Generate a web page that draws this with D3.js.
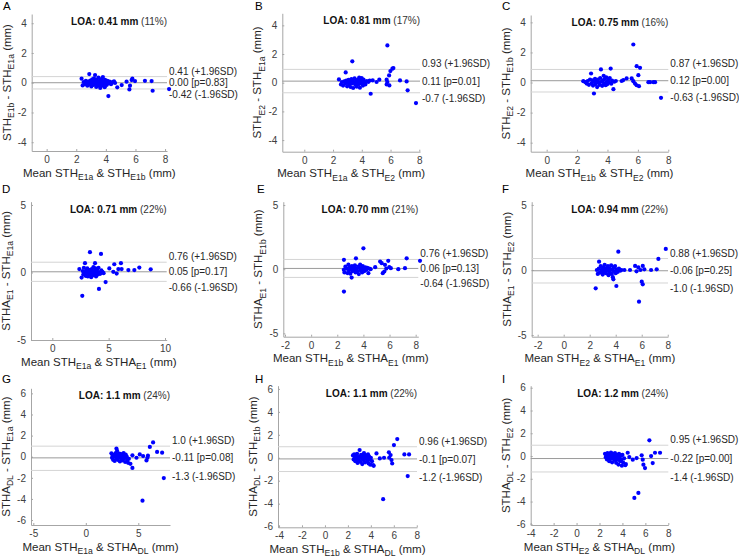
<!DOCTYPE html>
<html><head><meta charset="utf-8">
<script src="https://cdn.jsdelivr.net/npm/d3@7"></script>
<style>body{margin:0;background:#fff} svg{display:block}</style>
</head><body>
<svg id="c" width="739" height="558"></svg>
<script>
// ---------------- DATA ----------------
const panelLetters = ["A","B","C","D","E","F","G","H","I"];
const loaValues = ["0.41","0.81","0.75","0.71","0.70","0.94","1.1","1.1","1.2"];
const loaPercents = ["11%","17%","16%","22%","21%","22%","24%","22%","24%"];
const upperLOA = [0.41,0.93,0.87,0.76,0.76,0.88,1.0,0.96,0.95];
const upperLabels = ["0.41","0.93","0.87","0.76","0.76","0.88","1.0","0.96","0.95"];
const meanDiff = [0.00,0.11,0.12,0.05,0.06,-0.06,-0.11,-0.1,-0.22];
const meanLabels = ["0.00","0.11","0.12","0.05","0.06","-0.06","-0.11","-0.1","-0.22"];
const pValues = ["0.83","0.01","0.00","0.17","0.13","0.25","0.08","0.07","0.00"];
const lowerLOA = [-0.42,-0.7,-0.63,-0.66,-0.64,-1.0,-1.3,-1.2,-1.4];
const lowerLabels = ["-0.42","-0.7","-0.63","-0.66","-0.64","-1.0","-1.3","-1.2","-1.4"];
const yLabels = [
  "STH_{E1b} - STH_{E1a} (mm)","STH_{E2} - STH_{E1a} (mm)","STH_{E2} - STH_{E1b} (mm)",
  "STHA_{E1} - STH_{E1a} (mm)","STHA_{E1} - STH_{E1b} (mm)","STHA_{E1} - STH_{E2} (mm)",
  "STHA_{DL} - STH_{E1a} (mm)","STHA_{DL} - STH_{E1b} (mm)","STHA_{DL} - STH_{E2} (mm)"];
const xLabels = [
  "Mean STH_{E1a} & STH_{E1b} (mm)","Mean STH_{E1a} & STH_{E2} (mm)","Mean STH_{E1b} & STH_{E2} (mm)",
  "Mean STH_{E1a} & STHA_{E1} (mm)","Mean STH_{E1b} & STHA_{E1} (mm)","Mean STH_{E2} & STHA_{E1} (mm)",
  "Mean STH_{E1a} & STHA_{DL} (mm)","Mean STH_{E1b} & STHA_{DL} (mm)","Mean STH_{E2} & STHA_{DL} (mm)"];
const xTicks = [
  [0,2,4,6,8],[0,2,4,6,8],[0,2,4,6,8],
  [0,5,10],[-2,0,2,4,6,8],[-2,0,2,4,6,8],
  [-5,0,5],[-4,-2,0,2,4,6,8],[-4,-2,0,2,4,6,8]];
const yTicks = [
  [-4,-2,0,2,4],[-4,-2,0,2,4],[-4,-2,0,2,4],
  [-5,0,5],[-5,0,5],[-5,0,5],
  [-6,-4,-2,0,2,4,6],[-6,-4,-2,0,2,4,6],[-6,-4,-2,0,2,4,6]];
const xDomains = [[-1.01,8.13],[-1.53,8.05],[-1.05,8.0],[-1.89,10.15],[-2.13,8.2],[-2.46,8.02],[-5.22,8.02],[-4.09,8.02],[-4,8]];
const yDomains = [[-4.59,4.62],[-4.81,4.84],[-4.6,4.49],[-5,5.24],[-5.26,5.26],[-5.13,5.25],[-6.47,6.48],[-6.06,6.28],[-6.06,6.18]];

const pointsA = [[2.36,0.27],[2.43,-0.18],[2.5,0.05],[2.58,-0.1],[2.65,0.12],[2.7,-0.02],[2.75,-0.2],[2.82,0.08],[2.88,0.58],[2.9,-0.1],[2.95,0.15],[3.0,0.0],[3.02,-0.25],[3.08,0.22],[3.12,0.05],[3.15,-0.15],[3.2,0.3],[3.25,-0.05],[3.27,0.52],[3.3,0.1],[3.35,-0.28],[3.38,0.2],[3.42,-0.08],[3.45,0.05],[3.5,0.35],[3.52,-0.2],[3.55,0.0],[3.6,0.15],[3.62,-0.35],[3.65,-0.1],[3.7,0.25],[3.72,0.05],[3.78,-0.18],[3.8,0.38],[3.85,0.1],[3.88,-0.05],[3.92,-0.3],[3.95,0.2],[4.0,0.02],[4.05,-0.15],[4.1,0.12],[4.15,-0.05],[4.17,-0.9],[4.25,0.08],[4.35,-0.1],[4.45,0.05],[4.55,0.1],[4.62,-0.02],[4.77,-0.31],[5.07,-0.16],[5.4,0.07],[5.59,-0.45],[5.63,-0.2],[5.74,0.18],[5.79,0.27],[5.97,0.11],[6.64,0.13],[7.09,0.11],[7.16,-0.54],[8.27,-0.43]];
const pointsB = [[2.41,0.23],[2.55,-0.12],[2.62,0.05],[2.7,-0.2],[2.78,0.1],[2.85,-0.05],[2.88,0.72],[2.92,0.15],[2.98,-0.25],[3.02,0.02],[3.08,0.2],[3.12,-0.12],[3.18,0.08],[3.22,-0.3],[3.28,0.25],[3.32,-0.05],[3.34,1.49],[3.38,0.12],[3.4,-0.37],[3.45,0.0],[3.5,0.3],[3.55,-0.15],[3.6,0.1],[3.65,-0.28],[3.7,0.2],[3.72,0.02],[3.78,-0.1],[3.82,0.35],[3.87,-0.35],[3.9,0.15],[3.95,-0.05],[3.99,0.33],[4.02,0.1],[4.08,-0.2],[4.12,0.22],[4.18,0.0],[4.25,-0.12],[4.35,0.12],[4.45,0.05],[4.55,0.15],[4.62,-0.77],[4.76,0.16],[5.03,0.05],[5.22,0.21],[5.73,0.21],[5.73,-0.12],[5.78,0.05],[5.78,2.6],[5.9,0.51],[5.92,-0.19],[5.99,0.81],[6.13,0.98],[6.2,1.02],[6.66,0.16],[7.12,0.09],[7.19,-0.53],[7.77,-1.42]];
const pointsC = [[2.41,0.09],[2.55,0.02],[2.63,-0.07],[2.7,0.1],[2.78,-0.15],[2.85,0.2],[2.92,0.6],[2.95,-0.05],[3.0,0.15],[3.05,-0.2],[3.11,-0.73],[3.12,0.05],[3.18,0.25],[3.22,-0.1],[3.28,0.1],[3.32,-0.3],[3.38,0.2],[3.42,0.0],[3.48,-0.15],[3.52,0.3],[3.57,0.87],[3.6,0.05],[3.65,-0.22],[3.7,0.15],[3.75,0.45],[3.78,-0.05],[3.82,0.25],[3.88,-0.18],[3.92,0.35],[3.95,0.05],[4.0,-0.1],[4.05,0.2],[4.1,0.0],[4.15,0.3],[4.21,0.93],[4.25,-0.08],[4.3,0.12],[4.39,-0.44],[4.45,0.05],[4.55,0.1],[4.93,0.1],[5.04,0.16],[5.26,0.27],[5.59,0.27],[5.7,0.09],[5.7,2.53],[5.81,-0.07],[5.92,-0.18],[5.92,1.09],[6.03,0.49],[6.07,-0.24],[6.14,0.98],[6.69,0.02],[6.8,0.02],[7.02,0.02],[7.13,0.02],[7.52,-1.02]];
const pointsD = [[2.4,0.25],[2.6,-0.38],[2.66,-1.73],[2.7,0.1],[2.75,-0.15],[2.8,0.35],[2.85,0.0],[2.9,0.69],[2.95,-0.25],[3.0,0.15],[3.05,-0.05],[3.1,0.3],[3.15,-0.3],[3.2,0.05],[3.25,0.2],[3.3,-0.15],[3.34,1.5],[3.38,0.1],[3.45,-0.35],[3.5,0.25],[3.55,0.0],[3.6,-0.2],[3.65,0.4],[3.7,0.1],[3.75,-0.1],[3.79,0.69],[3.82,0.3],[3.88,-0.3],[3.92,0.05],[3.98,0.2],[4.05,-0.15],[4.1,0.35],[4.14,-1.22],[4.18,0.0],[4.25,-0.1],[4.32,1.37],[4.35,0.15],[4.45,0.05],[4.55,-0.05],[4.73,-0.71],[5.06,0.3],[5.41,0.05],[5.5,0.61],[5.71,-0.08],[5.86,0.25],[6.09,0.69],[6.15,0.25],[6.75,0.18],[7.28,0.18],[7.72,0.36],[8.73,0.23]];
const pointsE = [[2.5,-0.05],[2.51,0.73],[2.51,-1.74],[2.55,-0.25],[2.62,0.2],[2.7,0.05],[2.78,-0.3],[2.85,0.35],[2.9,-0.1],[2.95,0.15],[3.0,-0.35],[3.05,0.05],[3.1,-0.65],[3.12,0.25],[3.18,-0.15],[3.25,0.1],[3.3,-0.05],[3.35,0.3],[3.4,-0.25],[3.43,0.85],[3.48,0.05],[3.55,-0.15],[3.6,0.2],[3.65,-0.38],[3.7,0.1],[3.75,0.35],[3.8,-0.1],[3.85,0.05],[3.9,-0.25],[3.95,0.25],[4.0,1.63],[4.02,0.0],[4.08,-0.15],[4.15,0.15],[4.22,-0.05],[4.3,0.1],[4.38,-0.31],[4.45,0.05],[4.55,0.0],[4.9,0.16],[5.28,0.6],[5.4,0.47],[5.48,-0.31],[5.6,-0.18],[5.65,0.34],[5.75,0.05],[5.9,0.65],[5.98,0.16],[6.1,0.08],[6.67,0.0],[7.18,0.08],[7.31,0.85],[8.33,0.65]];
const pointsF = [[2.46,-1.41],[2.55,0.0],[2.62,-0.3],[2.7,0.1],[2.72,0.64],[2.78,-0.2],[2.85,0.3],[2.9,-0.1],[2.95,0.05],[3.0,-0.35],[3.05,0.2],[3.1,-0.15],[3.15,0.4],[3.2,0.0],[3.25,-0.25],[3.3,0.15],[3.35,-0.05],[3.4,0.3],[3.45,-0.4],[3.5,0.1],[3.55,-0.2],[3.6,0.05],[3.65,0.35],[3.7,-0.3],[3.75,0.0],[3.78,-0.55],[3.82,-0.72],[3.85,0.2],[3.9,-0.1],[3.95,0.3],[4.0,-0.25],[4.05,-1.23],[4.08,0.05],[4.15,-0.15],[4.2,1.41],[4.25,0.1],[4.35,-0.05],[4.45,0.0],[4.67,0.0],[5.1,0.0],[5.49,0.31],[5.6,-0.1],[5.74,0.2],[5.79,-2.44],[5.9,0.0],[6.0,-0.9],[6.08,-1.1],[6.08,0.31],[6.2,0.05],[6.72,0.0],[7.15,0.05],[7.28,0.85],[7.85,1.62]];
const pointsG = [[2.44,0.32],[2.5,-0.1],[2.55,0.1],[2.6,-0.3],[2.65,0.0],[2.7,0.2],[2.75,-0.4],[2.8,0.05],[2.85,0.35],[2.92,0.77],[2.95,-0.15],[2.98,0.55],[3.0,0.1],[3.05,-0.3],[3.1,0.2],[3.15,-0.05],[3.2,0.3],[3.25,-0.45],[3.3,0.0],[3.35,0.15],[3.4,-0.2],[3.45,0.25],[3.5,-0.35],[3.55,0.05],[3.6,0.35],[3.65,-0.15],[3.7,0.1],[3.75,-0.5],[3.8,0.2],[3.85,-0.1],[3.9,0.0],[3.95,-0.3],[4.03,-0.58],[4.1,-0.2],[4.25,-0.67],[4.44,-1.06],[4.44,0.13],[4.83,-0.1],[5.14,0.22],[5.4,-4.17],[5.46,0.06],[5.78,-0.35],[5.87,-0.1],[5.92,0.1],[6.1,0.93],[6.41,1.35],[6.79,0.45],[7.43,-2.02],[7.27,0.38]];
const pointsH = [[2.44,0.2],[2.5,-0.15],[2.55,0.3],[2.6,0.0],[2.65,-0.3],[2.7,0.15],[2.75,-0.1],[2.8,0.35],[2.85,-0.45],[2.9,0.05],[2.95,-0.2],[3.02,0.67],[3.05,0.1],[3.1,-0.35],[3.15,0.25],[3.2,-0.05],[3.25,-0.55],[3.3,0.15],[3.35,-0.2],[3.4,0.4],[3.45,0.0],[3.5,-0.4],[3.55,0.2],[3.6,-0.1],[3.65,0.05],[3.7,-0.3],[3.75,0.3],[3.8,-0.5],[3.85,0.1],[3.9,-0.15],[3.95,-0.6],[4.0,0.0],[4.1,-0.3],[4.2,-0.65],[4.25,-0.7],[4.49,0.38],[4.78,-0.06],[5.07,-3.61],[5.15,0.0],[5.57,0.47],[5.6,0.0],[5.72,0.23],[5.8,-0.2],[5.86,-0.5],[6.01,1.11],[6.3,1.63],[6.92,0.29],[7.21,-1.6],[7.33,0.29]];
const pointsI = [[2.48,0.2],[2.55,-0.1],[2.6,0.05],[2.65,-0.3],[2.7,0.25],[2.75,-0.15],[2.8,0.0],[2.85,-0.45],[2.9,0.15],[2.95,-0.25],[3.0,0.3],[3.05,-0.05],[3.1,-0.55],[3.15,0.2],[3.2,-0.2],[3.25,0.05],[3.3,-0.35],[3.35,0.25],[3.4,-0.1],[3.45,-0.6],[3.5,0.1],[3.55,-0.3],[3.6,0.0],[3.65,-0.75],[3.7,0.2],[3.75,-0.2],[3.8,-0.45],[3.85,0.05],[3.9,-0.3],[3.95,-0.85],[4.0,0.1],[4.05,-0.55],[4.15,-0.2],[4.25,-0.8],[4.3,-0.7],[4.46,0.29],[4.6,-0.09],[4.9,-0.32],[5.04,-3.68],[5.24,-0.18],[5.39,-3.24],[5.68,0.06],[5.77,-0.32],[5.83,-0.76],[5.97,-1.06],[6.35,1.38],[6.5,0.0],[6.64,-0.62],[6.84,0.29],[7.28,0.29]];
const allPoints = [pointsA,pointsB,pointsC,pointsD,pointsE,pointsF,pointsG,pointsH,pointsI];

// ---------------- LAYOUT (pixel boxes of each axes) ----------------
const boxes = [
  {L:31.7,R:167,T:14,B:151},{L:282.3,R:420,T:13.3,B:151.7},{L:530.7,R:668.3,T:15,B:151.7},
  {L:31,R:166.7,T:201.7,B:340},{L:283.3,R:418.3,T:201.7,B:336.7},{L:531.7,R:668,T:201.7,B:336.7},
  {L:31,R:170,T:388.3,B:525},{L:278,R:417,T:385.7,B:527.3},{L:530.7,R:668.3,T:385.7,B:525}];
const letterPos = [[3,10],[255,10],[502,10],[2,193],[257,193],[502,193],[2,383],[255,383],[502,383]];

const FONT = '"Liberation Sans", Arial, Helvetica, sans-serif';
const AXIS = "#a6a6a6", TXT = "#262626";
const LABEL_SIZE = 11.5;
const svg = d3.select("#c").attr("font-family", FONT);

function rich(sel, str, size) {
  const parts = str.split(/(_\{[^}]*\})/);
  let sub = false;
  parts.forEach(p => {
    if (!p) return;
    if (p.startsWith("_{")) {
      sel.append("tspan").attr("font-size", size * 0.75).attr("dy", size * 0.3).text(p.slice(2, -1));
      sub = true;
    } else {
      const t = sel.append("tspan").text(p);
      if (sub) { t.attr("dy", -size * 0.3); sub = false; }
    }
  });
}

boxes.forEach((b, i) => {
  const g = svg.append("g");
  const x = d3.scaleLinear().domain(xDomains[i]).range([b.L, b.R]);
  const y = d3.scaleLinear().domain(yDomains[i]).range([b.B, b.T]);

  // axes
  const ax = g.append("g").attr("transform", `translate(0,${b.B})`)
    .call(d3.axisBottom(x).tickValues(xTicks[i]).tickSizeInner(-2).tickSizeOuter(0).tickPadding(5));
  const ay = g.append("g").attr("transform", `translate(${b.L},0)`)
    .call(d3.axisLeft(y).tickValues(yTicks[i]).tickSizeInner(-2).tickSizeOuter(0).tickPadding(5));
  [ax, ay].forEach(a => {
    a.select(".domain").attr("stroke", AXIS).attr("stroke-width", 1);
    a.selectAll(".tick line").attr("stroke", AXIS);
    a.selectAll(".tick text").attr("fill", "#404040").attr("font-size", 10).attr("font-family", FONT)
      .text(d => d < 0 ? "-" + Math.abs(d) : String(d));
  });

  // reference lines
  const lines = [
    {v: upperLOA[i], c: "#d4d4d4"},
    {v: lowerLOA[i], c: "#d4d4d4"},
    {v: meanDiff[i], c: "#9a9a9a"}];
  g.selectAll("line.ref").data(lines).join("line").attr("class", "ref")
    .attr("x1", b.L).attr("x2", b.R)
    .attr("y1", d => y(d.v)).attr("y2", d => y(d.v))
    .attr("stroke", d => d.c).attr("stroke-width", 1);

  // points
  g.selectAll("circle").data(allPoints[i]).join("circle")
    .attr("cx", d => x(d[0])).attr("cy", d => y(d[1])).attr("r", 2.1).attr("fill", "#0000ff");

  // LOA labels
  const lx = b.R + 2;
  g.append("text").attr("x", lx).attr("y", y(upperLOA[i]) - 2).attr("font-size", 10).attr("fill", TXT)
    .text(upperLabels[i] + " (+1.96SD)");
  g.append("text").attr("x", lx).attr("y", y(meanDiff[i]) + 3.6).attr("font-size", 10).attr("fill", TXT)
    .text(meanLabels[i] + " [p=" + pValues[i] + "]");
  g.append("text").attr("x", lx).attr("y", y(lowerLOA[i]) + 9.5).attr("font-size", 10).attr("fill", TXT)
    .text(lowerLabels[i] + " (-1.96SD)");

  // title
  const t = g.append("text").attr("x", b.R).attr("y", b.T + 11).attr("text-anchor", "end")
    .attr("font-size", 10).attr("fill", "#111");
  t.append("tspan").attr("font-weight", "bold").text("LOA: " + loaValues[i] + " mm");
  t.append("tspan").attr("fill", "#333").text(" (" + loaPercents[i] + ")");

  // x label
  const xl = g.append("text").attr("x", (b.L + b.R) / 2).attr("y", b.B + 25.5)
    .attr("text-anchor", "middle").attr("font-size", LABEL_SIZE).attr("fill", TXT);
  rich(xl, xLabels[i], LABEL_SIZE);
  // y label
  const yl = g.append("text").attr("transform", `translate(${b.L - 21},${(b.T + b.B) / 2}) rotate(-90)`)
    .attr("text-anchor", "middle").attr("font-size", LABEL_SIZE).attr("fill", TXT);
  rich(yl, yLabels[i], LABEL_SIZE);

  // panel letter
  g.append("text").attr("x", letterPos[i][0]).attr("y", letterPos[i][1]).attr("font-size", 11.5).attr("fill", "#000")
    .text(panelLetters[i]);
});
</script>
</body></html>
